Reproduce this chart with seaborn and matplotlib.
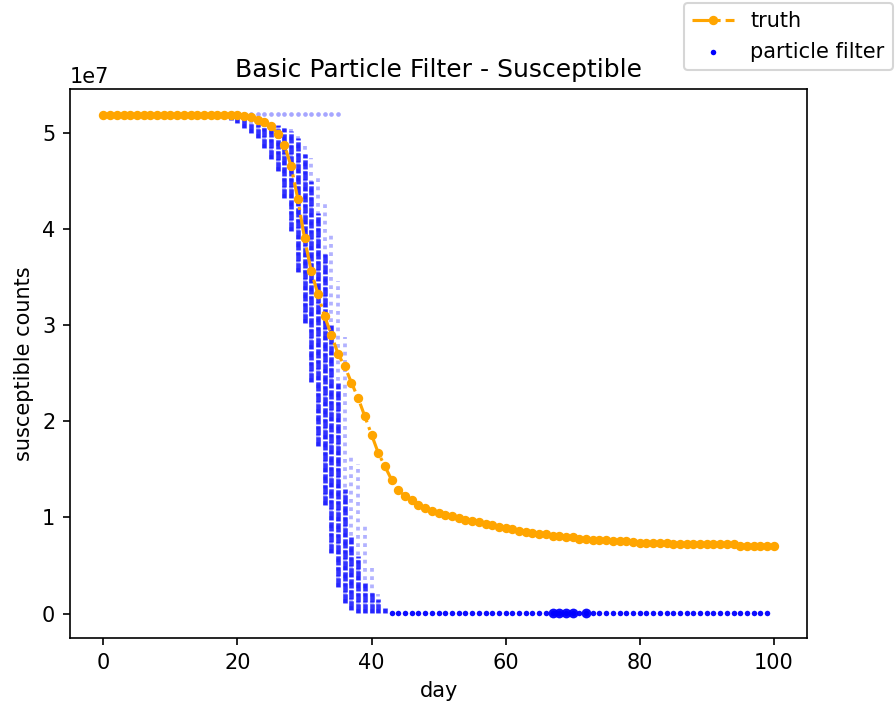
import numpy as np
import seaborn as sns
import matplotlib
matplotlib.use("Agg")
import matplotlib.pyplot as plt

# truth curve (millions of susceptible people), one value per day 0..100
days = list(range(101))
truth = [51.85] * 21 + [
    51.75, 51.6, 51.35, 51.1, 50.7, 49.9, 48.7, 46.5, 43.1, 39.0,      # 21-30
    35.6, 33.2, 30.9, 29.0, 27.0, 25.7, 24.0, 22.4, 20.5, 18.6,        # 31-40
    16.7, 15.3, 13.9, 12.9, 12.2, 11.8, 11.3, 11.0, 10.7, 10.5,        # 41-50
    10.3, 10.1, 9.9, 9.75, 9.65, 9.5, 9.35, 9.2, 9.05, 8.9,            # 51-60
    8.75, 8.6, 8.5, 8.4, 8.3, 8.25, 8.1, 8.05, 7.95, 7.95,             # 61-70
    7.8, 7.75, 7.7, 7.7, 7.65, 7.5, 7.5, 7.5, 7.45, 7.35,              # 71-80
    7.35, 7.35, 7.35, 7.3, 7.2, 7.2, 7.2, 7.2, 7.2, 7.2,               # 81-90
    7.2, 7.2, 7.2, 7.2, 7.05, 7.05, 7.05, 7.05, 7.05, 7.05,            # 91-100
]

# particle clouds during the drop (millions): faint top, dense top, bottom
col_days = list(range(18, 43))
sparse_hi = [51.7, 51.6, 51.6, 51.4, 51.2, 51.0, 50.9, 50.8, 51.0, 50.7,
             50.4, 49.9, 48.9, 47.4, 45.5, 42.9, 39.5, 34.6, 28.8, 16.3,
             15.6, 9.4, 4.9, 2.0, 0.8]
dense_hi = [51.7, 51.6, 51.6, 51.4, 51.1, 50.9, 50.9, 50.7, 50.8, 50.5,
            50.2, 49.4, 47.8, 45.0, 41.6, 37.4, 30.0, 24.0, 13.0, 8.0,
            6.0, 3.2, 2.2, 1.5, 0.6]
dense_lo = [51.5, 51.3, 51.0, 50.5, 50.0, 49.4, 48.4, 47.3, 46.0, 43.2,
            39.8, 35.5, 30.2, 24.1, 17.4, 11.3, 6.3, 2.8, 1.1, 0.4,
            0.1, 0.05, 0.05, 0.05, 0.05]

# particles still at the start value, and collapsed ones near zero
top_days = list(range(0, 36))
top_value = 51.9
bottom_days = list(range(43, 100))
bottom_value = 0.05
heavy_days = [67, 68, 69, 70, 72]

M = 1e6

fig = plt.figure(figsize=(896 / 150, 709 / 150), dpi=150)
ax = fig.add_axes([0.078, 0.100, 0.823, 0.774])

# particle filter
ax.vlines(col_days, np.array(dense_lo) * M, np.array(sparse_hi) * M,
          colors="blue", alpha=0.3, linewidth=1.8, linestyles=(0, (1, 1.2)))
ax.vlines(col_days, np.array(dense_lo) * M, np.array(dense_hi) * M,
          colors="blue", alpha=0.8, linewidth=2.2, linestyles=(0, (2, 0.4)))
sns.scatterplot(x=top_days, y=[top_value * M] * len(top_days), ax=ax,
                color="blue", s=5, alpha=0.35, linewidth=0)
sns.scatterplot(x=bottom_days, y=[bottom_value * M] * len(bottom_days), ax=ax,
                color="blue", s=7, alpha=0.95, linewidth=0,
                label="particle filter")
sns.scatterplot(x=heavy_days, y=[bottom_value * M] * len(heavy_days), ax=ax,
                color="blue", s=22, alpha=0.95, linewidth=0)

# truth
sns.lineplot(x=days, y=np.array(truth) * M, ax=ax, color="orange",
             linestyle="-.", marker=".", markersize=7,
             markeredgecolor="orange", markeredgewidth=1,
             label="truth", zorder=5)

ax.set_title("Basic Particle Filter - Susceptible")
ax.set_xlabel("day")
ax.set_ylabel("susceptible counts")

ax.legend_.remove()
h, l = ax.get_legend_handles_labels()
order = [l.index("truth"), l.index("particle filter")]
leg = fig.legend([h[i] for i in order], [l[i] for i in order],
                 loc="upper right", bbox_to_anchor=(1.0, 1.0),
                 borderaxespad=0.15)
leg.legend_handles[1].set_alpha(1)

fig.savefig("out.png", dpi=150)
